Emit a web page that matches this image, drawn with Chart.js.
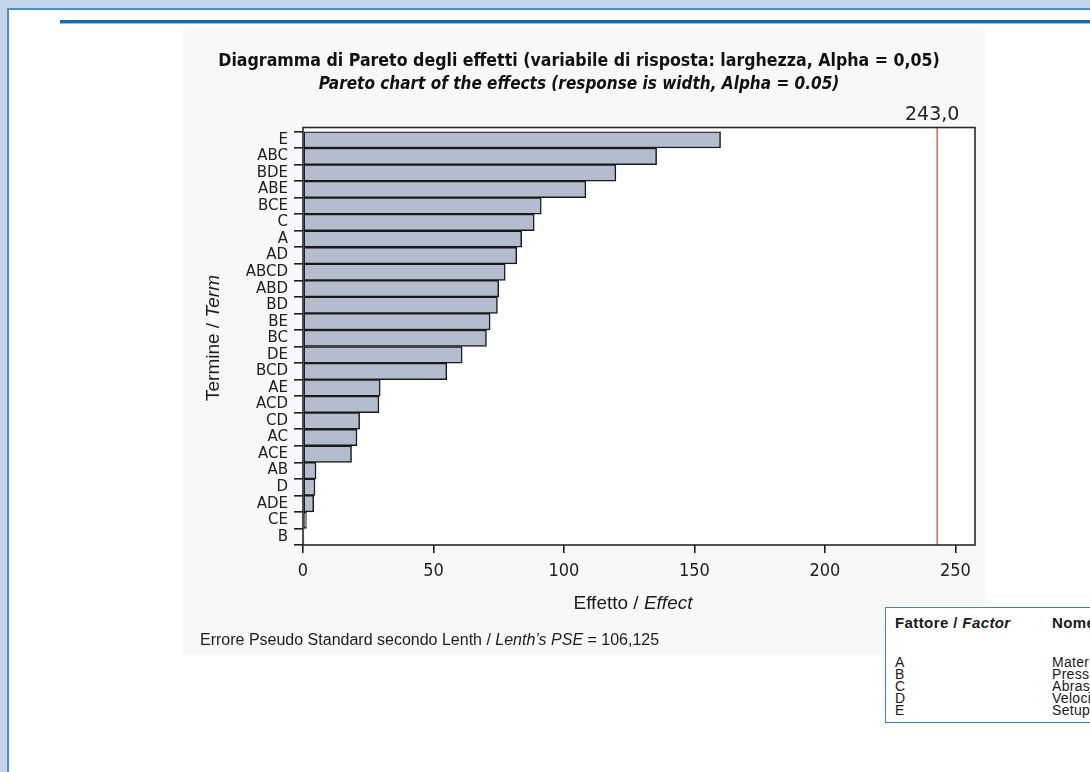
<!DOCTYPE html>
<html lang="it">
<head>
<meta charset="utf-8">
<title>Diagramma di Pareto degli effetti</title>
<script src="https://cdn.jsdelivr.net/npm/chart.js@4.4.1/dist/chart.umd.min.js"></script>
<style>
  html, body { margin: 0; padding: 0; }
  body {
    width: 1090px; height: 772px; overflow: hidden; position: relative;
    background: #c4d5ea;
    font-family: "Liberation Sans", Arial, sans-serif;
  }
  #panel {
    position: absolute; left: 7px; top: 8px; width: 1200px; height: 900px;
    background: #ffffff; border: 2px solid #4a8fd0; box-sizing: border-box;
  }
  #rule {
    position: absolute; left: 60px; top: 20px; width: 1100px; height: 3px;
    background: #1a68ae; border-bottom: 1px solid #8dbfe8;
  }
  #chartBox {
    position: absolute; left: 183px; top: 28px; width: 802px; height: 627px;
    background: #f7f8fa;
  }
  #chartBox canvas { display: block; }
  .xTitle {
    position: absolute; left: 633px; top: 603px; transform: translate(-50%, -50%);
    font-size: 19px; color: #1c1c1c; white-space: nowrap;
  }
  .yTitle {
    position: absolute; left: 213px; top: 338px;
    transform: translate(-50%, -50%) rotate(-90deg);
    font-size: 19px; color: #1c1c1c; white-space: nowrap;
  }
  .footer {
    position: absolute; left: 200px; top: 640px; transform: translateY(-50%);
    font-size: 16px; color: #1c1c1c; white-space: nowrap;
  }
  #factorBox {
    position: absolute; left: 885px; top: 607px; width: 260px; height: 116px;
    border: 1.5px solid #3c82c4; background: #ffffff; box-sizing: border-box;
    color: #1a1a1a;
  }
  #factorBox .head { position: absolute; top: 6px; left: 9px; font-size: 15px; letter-spacing: 0.4px; font-weight: bold; white-space: nowrap; }
  #factorBox .head2 { position: absolute; top: 6px; left: 166px; font-size: 15px; letter-spacing: 0.4px; font-weight: bold; white-space: nowrap; }
  #factorBox .row { position: absolute; left: 9px; height: 12px; line-height: 12px; font-size: 14px; letter-spacing: 0.3px; white-space: nowrap; }
  #factorBox .row span { position: absolute; left: 157px; }
</style>
</head>
<body>
<div id="panel"></div>
<div id="rule"></div>
<div id="chartBox"><canvas id="pareto" width="802" height="627"></canvas></div>
<div class="xTitle">Effetto / <i>Effect</i></div>
<div class="yTitle">Termine / <i>Term</i></div>
<div class="footer" id="pseNote"></div>
<div id="factorBox">
  <div class="head">Fattore / <i>Factor</i></div>
  <div class="head2">Nome</div>
</div>
<script>
// Terms of the factorial model, ordered by absolute standardized effect
const terms = ['E', 'ABC', 'BDE', 'ABE', 'BCE', 'C', 'A', 'AD', 'ABCD', 'ABD', 'BD', 'BE', 'BC',
               'DE', 'BCD', 'AE', 'ACD', 'CD', 'AC', 'ACE', 'AB', 'D', 'ADE', 'CE', 'B'];
const effects = [160.0, 135.5, 119.9, 108.4, 91.3, 88.6, 83.8, 81.9, 77.5, 75.0, 74.5, 71.7, 70.3,
                 61.0, 55.1, 29.6, 29.1, 21.7, 20.7, 18.6, 5.0, 4.6, 4.1, 1.3, 0.4];
// Lenth margin of error at Alpha = 0.05
const criticalEffect = 243.0;
const lenthPSE = 106.125;
const xTickValues = [0, 50, 100, 150, 200, 250];
const xMax = 257.5;

const factorCodes = ['A', 'B', 'C', 'D', 'E'];
const factorNames = ['Materiale', 'Pressione', 'Abrasivo', 'Velocità', 'Setup'];

const itNumber = (v, d) => v.toFixed(d).replace('.', ',');

document.getElementById('pseNote').innerHTML =
  'Errore Pseudo Standard secondo Lenth / <i>Lenth\u2019s PSE</i> = ' + itNumber(lenthPSE, 3);

const box = document.getElementById('factorBox');
factorCodes.forEach((code, i) => {
  const row = document.createElement('div');
  row.className = 'row';
  row.style.top = (48 + i * 12) + 'px';
  row.textContent = code;
  const name = document.createElement('span');
  name.textContent = factorNames[i];
  row.appendChild(name);
  box.appendChild(row);
});

const FRAME_TOP_EXTRA = 4;
const narrow = '"Liberation Sans Narrow", "DejaVu Sans Condensed", "Liberation Sans", sans-serif';

// White plot area, frame, reference line and its label
const paretoFrame = {
  id: 'paretoFrame',
  beforeDraw(chart) {
    const { ctx, chartArea: a } = chart;
    ctx.save();
    ctx.fillStyle = '#ffffff';
    ctx.fillRect(a.left, a.top - FRAME_TOP_EXTRA, a.right - a.left, a.bottom - a.top + FRAME_TOP_EXTRA);
    ctx.restore();
  },
  afterDatasetsDraw(chart) {
    const { ctx, chartArea: a, scales: { x } } = chart;
    const top = a.top - FRAME_TOP_EXTRA;
    const lx = x.getPixelForValue(criticalEffect);
    ctx.save();
    ctx.strokeStyle = '#ea6a52';
    ctx.lineWidth = 1.6;
    ctx.beginPath();
    ctx.moveTo(lx, top);
    ctx.lineTo(lx, a.bottom);
    ctx.stroke();

    ctx.strokeStyle = '#2a2a2a';
    ctx.lineWidth = 1.6;
    ctx.strokeRect(a.left, top, a.right - a.left, a.bottom - top);

    ctx.fillStyle = '#222222';
    ctx.font = '19px "DejaVu Sans", sans-serif';
    ctx.textAlign = 'center';
    ctx.textBaseline = 'middle';
    ctx.fillText(itNumber(criticalEffect, 1), lx - 5, top - 12);
    ctx.restore();
  }
};

new Chart(document.getElementById('pareto'), {
  type: 'bar',
  data: {
    labels: terms,
    datasets: [{
      data: effects,
      backgroundColor: '#b4bdcd',
      borderColor: '#1a1a1a',
      borderWidth: 1.5,
      borderSkipped: false,
      barPercentage: 1,
      categoryPercentage: 1
    }]
  },
  options: {
    indexAxis: 'y',
    responsive: false,
    animation: false,
    devicePixelRatio: 1,
    layout: { padding: { left: 0, right: 10, top: 0, bottom: 0 } },
    plugins: {
      legend: { display: false },
      tooltip: { enabled: false },
      title: {
        display: true,
        text: 'Diagramma di Pareto degli effetti (variabile di risposta: larghezza, Alpha = 0,05)',
        color: '#111111',
        font: { family: narrow, size: 17.6, weight: 'bold', lineHeight: 1 },
        padding: { top: 24.7, bottom: 0 }
      },
      subtitle: {
        display: true,
        text: 'Pareto chart of the effects (response is width, Alpha = 0.05)',
        color: '#111111',
        font: { family: narrow, size: 17, weight: 'bold', style: 'italic', lineHeight: 1 },
        padding: { top: 6.2, bottom: 38 }
      }
    },
    scales: {
      x: {
        type: 'linear',
        min: 0,
        max: xMax,
        afterBuildTicks(scale) { scale.ticks = xTickValues.map(v => ({ value: v })); },
        afterFit(scale) { scale.height = 110; },
        border: { display: false },
        grid: { drawOnChartArea: false, drawTicks: true, tickLength: 8, color: '#1e1e1e', lineWidth: 1.6 },
        ticks: {
          padding: 8,
          color: '#1e1e1e',
          font: { family: narrow, size: 18 },
          maxRotation: 0
        }
      },
      y: {
        type: 'category',
        offset: true,
        afterFit(scale) { scale.width = 120; },
        border: { display: false },
        grid: { drawOnChartArea: false, drawTicks: true, tickLength: 9, color: '#1e1e1e', lineWidth: 1.6 },
        ticks: {
          autoSkip: false,
          padding: 6,
          color: '#1e1e1e',
          font: { family: '"DejaVu Sans", sans-serif', size: 15, lineHeight: 1 }
        }
      }
    }
  },
  plugins: [paretoFrame]
});
</script>
</body>
</html>
